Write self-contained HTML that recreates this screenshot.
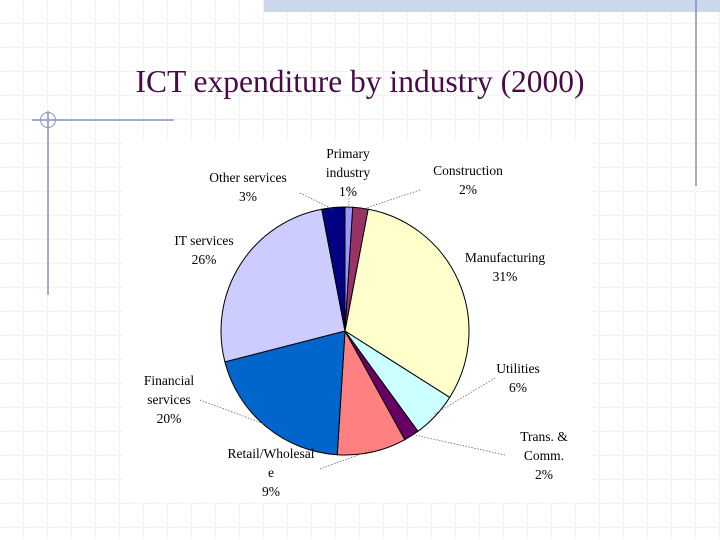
<!DOCTYPE html>
<html><head><meta charset="utf-8"><style>
html,body{margin:0;padding:0;background:#fff}
svg{display:block}
text{font-family:"Liberation Serif",serif}
</style></head><body>
<svg id="c" width="720" height="540" viewBox="0 0 720 540" xmlns="http://www.w3.org/2000/svg">
<defs>
<pattern id="grid" width="24" height="24" patternUnits="userSpaceOnUse">
<path d="M24 0V24M0 24H24" stroke="#d0d0d0" stroke-width="1" stroke-dasharray="1.5,1.5" fill="none"/>
</pattern>
</defs>
<rect width="720" height="540" fill="url(#grid)"/>
<rect x="264" y="0" width="456" height="12" fill="#cdd7ec"/>
<line x1="696" y1="0" x2="696" y2="186" stroke="#8090c0" stroke-width="1.5"/>
<line x1="32" y1="120" x2="174" y2="120" stroke="#8090c0" stroke-width="1.5"/>
<line x1="48" y1="111" x2="48" y2="295" stroke="#8090c0" stroke-width="1.5"/>
<circle cx="48" cy="120" r="7.5" fill="none" stroke="#8090c0" stroke-width="1"/>
<rect x="122" y="140" width="470" height="363" fill="#fff"/>
<text x="360" y="92" text-anchor="middle" font-size="31.5" fill="#4a0a4a">ICT expenditure by industry (2000)</text>
<g id="pie"></g>
<g id="labels"></g>
</svg>
<script>
const categories=["Primary industry","Construction","Manufacturing","Utilities","Trans. & Comm.","Retail/Wholesale","Financial services","IT services","Other services"];
const values=[1,2,31,6,2,9,20,26,3];
const pctLabels=["1%","2%","31%","6%","2%","9%","20%","26%","3%"];
const colors=["#9999ff","#993366","#ffffcc","#ccffff","#660066","#ff8080","#0066cc","#ccccff","#000080"];
const NS="http://www.w3.org/2000/svg";
const cx=345,cy=331,R=124;
const total=values.reduce((a,b)=>a+b,0);
function pt(a,r){return [cx+r*Math.sin(a),cy-r*Math.cos(a)];}
const pie=document.getElementById('pie');
let acc=0;const mids=[];
values.forEach((v,i)=>{
 const a0=acc/total*2*Math.PI;acc+=v;const a1=acc/total*2*Math.PI;
 mids.push((a0+a1)/2);
 const p0=pt(a0,R),p1=pt(a1,R);
 const p=document.createElementNS(NS,'path');
 p.setAttribute('d',`M${cx},${cy}L${p0[0]},${p0[1]}A${R},${R} 0 ${a1-a0>Math.PI?1:0} 1 ${p1[0]},${p1[1]}Z`);
 p.setAttribute('fill',colors[i]);p.setAttribute('stroke','#000');p.setAttribute('stroke-width','1');
 
 
 pie.appendChild(p);
});
const layout=[
 {lines:["Primary","industry","1%"],x:348,y:158,lx:349,ly:186},
 {lines:["Construction","2%"],x:468,y:175,lx:420,ly:190},
 {lines:["Manufacturing","31%"],x:505,y:262,lx:null},
 {lines:["Utilities","6%"],x:518,y:373,lx:495,ly:378},
 {lines:["Trans. &","Comm.","2%"],x:544,y:441,lx:505,ly:455},
 {lines:["Retail/Wholesal","e","9%"],x:271,y:458,lx:320,ly:469},
 {lines:["Financial","services","20%"],x:169,y:385,lx:200,ly:400},
 {lines:["IT services","26%"],x:204,y:245,lx:null},
 {lines:["Other services","3%"],x:248,y:182,lx:300,ly:193}
];
const lg=document.getElementById('labels');
layout.forEach((L,i)=>{
 if(L.lx!==null){
  const e=pt(mids[i],R-2);
  const ln=document.createElementNS(NS,'line');
  ln.setAttribute('x1',L.lx);ln.setAttribute('y1',L.ly);ln.setAttribute('x2',e[0]);ln.setAttribute('y2',e[1]);
  ln.setAttribute('stroke','#555');ln.setAttribute('stroke-width','0.7');ln.setAttribute('stroke-dasharray','1.5,1.5');
  
  
  lg.appendChild(ln);
 }
 const t=document.createElementNS(NS,'text');
 t.setAttribute('text-anchor','middle');t.setAttribute('font-size','13.5');t.setAttribute('fill','#000');
 
 
 const lines=L.lines.slice(0,-1).concat([pctLabels[i]]);
 lines.forEach((s,k)=>{const ts=document.createElementNS(NS,'tspan');ts.setAttribute('x',L.x);ts.setAttribute('y',L.y+k*19);ts.textContent=s;t.appendChild(ts);});
 lg.appendChild(t);
});
</script>
</body></html>
